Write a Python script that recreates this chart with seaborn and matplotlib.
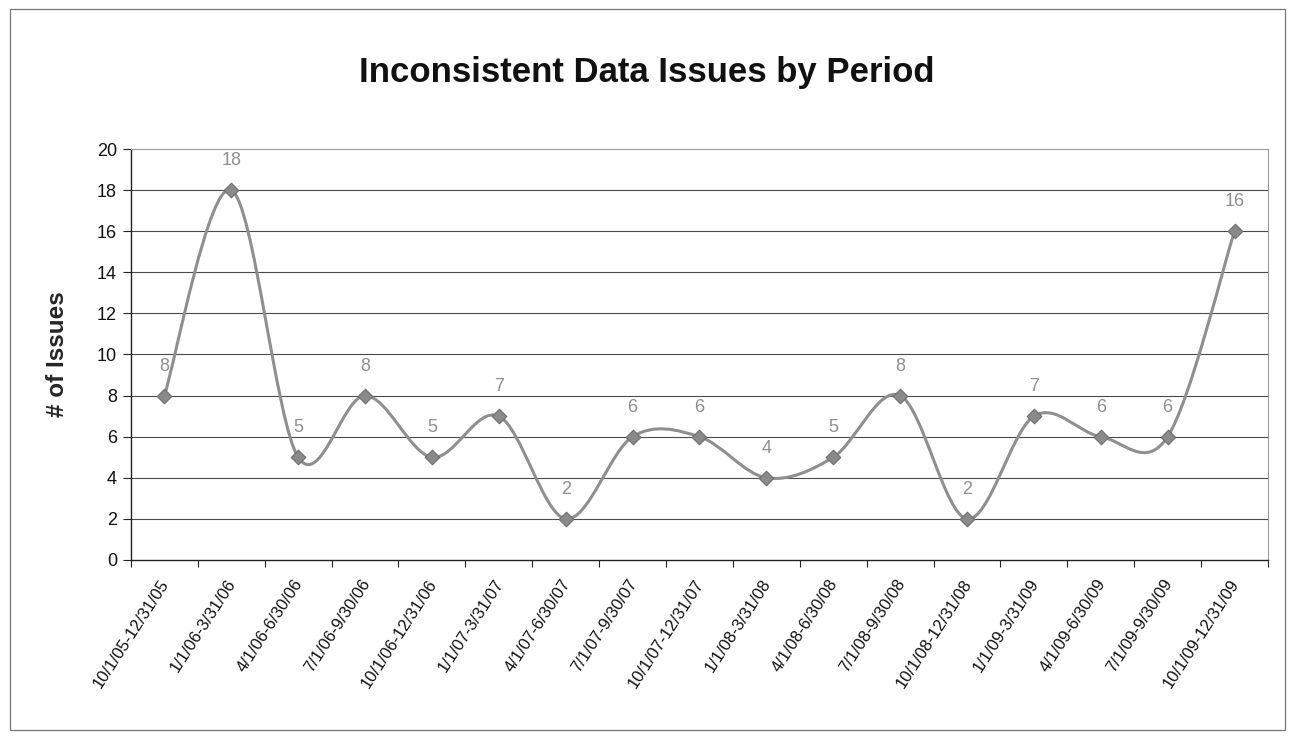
import numpy as np
import pandas as pd
import matplotlib
matplotlib.use("Agg")
import matplotlib.pyplot as plt
import matplotlib.transforms as mtransforms
import seaborn as sns
from matplotlib.path import Path
from matplotlib.patches import PathPatch, Rectangle

periods = ["10/1/05-12/31/05", "1/1/06-3/31/06", "4/1/06-6/30/06", "7/1/06-9/30/06",
           "10/1/06-12/31/06", "1/1/07-3/31/07", "4/1/07-6/30/07", "7/1/07-9/30/07",
           "10/1/07-12/31/07", "1/1/08-3/31/08", "4/1/08-6/30/08", "7/1/08-9/30/08",
           "10/1/08-12/31/08", "1/1/09-3/31/09", "4/1/09-6/30/09", "7/1/09-9/30/09",
           "10/1/09-12/31/09"]
issues = [8, 18, 5, 8, 5, 7, 2, 6, 6, 4, 5, 8, 2, 7, 6, 6, 16]
y_ticks = [0, 2, 4, 6, 8, 10, 12, 14, 16, 18, 20]

title = "Inconsistent Data Issues by Period"
y_label = "# of Issues"

sns.set_theme(style="white")
plt.rcParams['font.family'] = ['Liberation Sans', 'DejaVu Sans']

df = pd.DataFrame({"period": periods, "issues": issues})
df["pos"] = np.arange(len(df))

fig = plt.figure(figsize=(12.94, 7.37), dpi=100)
ax = fig.add_axes([0.1012, 0.2402, 0.8787, 0.5576])

# horizontal gridlines
for t in y_ticks[1:-1]:
    ax.axhline(t, color="#4a4a4a", lw=0.8, zorder=0)

# smoothed line (Excel-style Bezier through data points)
xs = df["pos"].to_numpy(dtype=float)
ys = df["issues"].to_numpy(dtype=float)
n = len(xs)
verts = [(xs[0], ys[0])]
codes = [Path.MOVETO]
for i in range(n - 1):
    p0 = np.array([xs[max(i - 1, 0)], ys[max(i - 1, 0)]])
    p1 = np.array([xs[i], ys[i]])
    p2 = np.array([xs[i + 1], ys[i + 1]])
    p3 = np.array([xs[min(i + 2, n - 1)], ys[min(i + 2, n - 1)]])
    c1 = p1 + (p2 - p0) / 6.0
    c2 = p2 - (p3 - p1) / 6.0
    verts += [tuple(c1), tuple(c2), tuple(p2)]
    codes += [Path.CURVE4, Path.CURVE4, Path.CURVE4]
ax.add_patch(PathPatch(Path(verts, codes), facecolor="none", edgecolor="#8f8f8f",
                       lw=2.2, zorder=2))

sns.scatterplot(data=df, x="pos", y="issues", marker="D", s=55, color="#8a8a8a",
                edgecolor="#6e6e6e", linewidth=0.8, ax=ax, zorder=3, legend=False)

for x, y in zip(xs, ys):
    ax.annotate(f"{int(y)}", (x, y), xytext=(0, 15), textcoords="offset points",
                ha="center", va="bottom", fontsize=13, color="#8f8f8f")

ax.set_xlim(-0.5, n - 0.5)
ax.set_ylim(0, 20)
ax.set_yticks(y_ticks)
ax.set_yticklabels([str(t) for t in y_ticks], fontsize=13, color="#111111")
ax.set_xticks(np.arange(n))
ax.set_xticklabels(periods, rotation=57, ha="right", rotation_mode="anchor",
                   fontsize=12, color="#111111")
ax.tick_params(axis="x", length=0, pad=12)
shift = mtransforms.ScaledTranslation(-5 / 100, 0, fig.dpi_scale_trans)
for lbl in ax.get_xticklabels():
    lbl.set_transform(lbl.get_transform() + shift)
ax.tick_params(axis="y", length=6, width=0.8, color="#222222", direction="out", left=True, pad=4)
ax.set_xticks(np.arange(n + 1) - 0.5, minor=True)
ax.tick_params(axis="x", which="minor", length=5, width=0.8, color="#222222", direction="out", bottom=True)

ax.set_xlabel("")
ax.set_ylabel(y_label, fontsize=17.5, fontweight="bold", labelpad=20)

for side in ["top", "right"]:
    ax.spines[side].set_visible(True)
    ax.spines[side].set_color("#9a9a9a")
    ax.spines[side].set_linestyle((0, (2, 1)))
    ax.spines[side].set_linewidth(0.8)
for side in ["left", "bottom"]:
    ax.spines[side].set_color("#222222")
    ax.spines[side].set_linewidth(1.0)

fig.text(0.5, 0.902, title, ha="center", va="center", fontsize=25, fontweight="bold",
         color="#111111")

fig.patches.append(Rectangle((0.008, 0.009), 0.985, 0.979, transform=fig.transFigure,
                             fill=False, edgecolor="#777777", lw=0.9))

fig.savefig("out.png", dpi=100)
